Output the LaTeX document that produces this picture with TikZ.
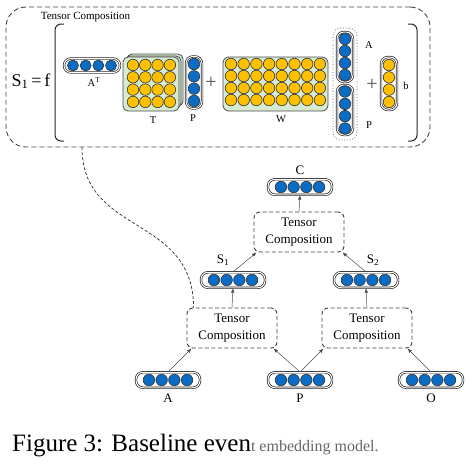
\documentclass[tikz,border=0pt]{standalone}
\usepackage{fontspec}
\setmainfont{Liberation Serif}
\usetikzlibrary{calc,arrows.meta}
\definecolor{vblue}{HTML}{0A6CC4}
\definecolor{vyellow}{HTML}{FFC000}
\definecolor{vgreen}{HTML}{D6EBD2}
\tikzset{
  dotb/.style={circle, draw=black!80, line width=0.6pt, fill=vblue, minimum size=11.5pt, inner sep=0pt},
  doty/.style={circle, draw=black!80, line width=0.6pt, fill=vyellow, minimum size=11.5pt, inner sep=0pt},
  pill/.style={draw=black!85, line width=0.7pt, double=white, double distance=1pt, rounded corners=7pt, inner sep=0pt},
  mat/.style={draw=black!70, line width=0.8pt, fill=vgreen, rounded corners=5pt},
  tcbox/.style={draw=black!75, dash pattern=on 4pt off 2.5pt, line width=0.9pt, rounded corners=6pt,
    minimum width=90pt, minimum height=40pt, align=center, inner sep=1pt, font=\fontsize{13}{17}\selectfont},
  arr/.style={-{Latex[length=4.5pt,width=3.5pt]}, line width=0.5pt, draw=black!70},
  lbl/.style={inner sep=0pt, font=\fontsize{13}{13}\selectfont},
  slbl/.style={inner sep=0pt, font=\fontsize{10.5}{10.5}\selectfont},
  plus/.style={inner sep=0pt, text=black!70, font=\fontsize{20}{20}\selectfont}
}
\newcommand\hpill[3]{%
  \node[pill, minimum width=64pt, minimum height=15.5pt] (#1) at (#2) {};
  \foreach \k in {-1.5,-0.5,0.5,1.5} \node[#3] at ($(#1.center)+(\k*12.7,0)$) {};}
\begin{document}
\begin{tikzpicture}[x=1pt,y=-1pt]
\useasboundingbox (0,0) rectangle (472,464);
% ---- upper panel
\node[draw=black!75, dash pattern=on 5pt off 3pt, line width=0.9pt, rounded corners=20pt,
  minimum width=424pt, minimum height=140pt, inner sep=0pt] (outer) at (218,77) {};
\node[inner sep=0pt, font=\fontsize{11}{11}\selectfont] (ttl) at (85.5,17) {Tensor Composition};
\node[inner sep=0pt, font=\fontsize{18}{18}\selectfont] (s1f) at (31,81) {S\textsubscript{1}\,=\,f};
\draw[line width=1pt, draw=black!85, rounded corners=6pt] (64,24) -- (55,24) -- (55,141) -- (64,141);
\draw[line width=1pt, draw=black!85, rounded corners=6pt] (408,24) -- (417,24) -- (417,141) -- (408,141);
% A^T
\node[pill, minimum width=56pt, minimum height=14pt] (at) at (92,65.5) {};
\foreach \k in {-1.5,-0.5,0.5,1.5} \node[dotb, minimum size=11pt] at ($(at.center)+(\k*12.7,0)$) {};
\node[slbl] (atl) at (94,82) {A\textsuperscript{T}};
% T tensor
\draw[mat] (127,54) rectangle (183,106);
\draw[mat] (125,56) rectangle (181,108);
\node[mat, minimum width=56pt, minimum height=54pt, inner sep=0pt] (tm) at (151,84) {};
\foreach \i in {0,...,3} \foreach \j in {0,...,3}
  \node[doty] at ($(133,65)+(\i*12.3,\j*12.3)$) {};
\node[slbl] (tl) at (153,120) {T};
% P vertical
\node[pill, minimum width=16pt, minimum height=52pt] (pv) at (194,82.5) {};
\foreach \k in {-1.5,-0.5,0.5,1.5} \node[dotb] at ($(pv.center)+(0,\k*12.3)$) {};
\node[slbl] (pl) at (193,118) {P};
\node[plus] (pl1) at (211,83) {+};
% W
\node[mat, minimum width=105pt, minimum height=54pt, inner sep=0pt, rounded corners=6pt] (wm) at (275.5,84) {};
\foreach \i in {0,...,7} \foreach \j in {0,...,3}
  \node[doty] at ($(231,64)+(\i*12.7,\j*12)$) {};
\node[slbl] (wl) at (281,119) {W};
% A/P stacked
\node[draw=black!70, dotted, line width=0.7pt, rounded corners=8pt, minimum width=24pt, minimum height=112pt, inner sep=0pt] (ap) at (345,84) {};
\node[pill, minimum width=16pt, minimum height=50pt] (av) at (345,57) {};
\foreach \k in {-1.5,-0.5,0.5,1.5} \node[dotb] at ($(av.center)+(0,\k*12)$) {};
\node[pill, minimum width=16pt, minimum height=50pt] (pv2) at (345,110) {};
\foreach \k in {-1.5,-0.5,0.5,1.5} \node[dotb] at ($(pv2.center)+(0,\k*12.3)$) {};
\node[slbl] (al) at (369,45) {A};
\node[slbl] (pl2) at (369,125) {P};
\node[plus] (pl2b) at (372,85) {+};
% b
\node[pill, minimum width=16pt, minimum height=53pt] (bv) at (389,83.5) {};
\foreach \k in {-1.5,-0.5,0.5,1.5} \node[doty] at ($(bv.center)+(0,\k*12.3)$) {};
\node[slbl] (bl) at (406,86) {b};
% ---- lower tree
\hpill{vc}{300,187}{dotb}
\node[lbl] (cl) at (300,170) {C};
\node[tcbox] (tct) at (299,232) {Tensor\\Composition};
\hpill{vs1}{233,280}{dotb}
\node[lbl] (s1l) at (223,260) {S\textsubscript{1}};
\hpill{vs2}{366,280}{dotb}
\node[lbl] (s2l) at (373,260) {S\textsubscript{2}};
\node[tcbox] (tcl) at (232,328) {Tensor\\Composition};
\node[tcbox] (tcr) at (367,328) {Tensor\\Composition};
\hpill{va}{168,380}{dotb}
\hpill{vp}{300,380}{dotb}
\hpill{vo}{431,380}{dotb}
\node[lbl] (val) at (168,398) {A};
\node[lbl] (vpl) at (300,398) {P};
\node[lbl] (vol) at (431,398) {O};
% arrows
\draw[arr] (va.north) -- ([xshift=5pt]tcl.south west);
\draw[arr] (vp.north) -- ([xshift=-4pt]tcl.south east);
\draw[arr] (vp.north) -- ([xshift=2pt]tcr.south west);
\draw[arr] (vo.north) -- ([xshift=-5pt]tcr.south east);
\draw[arr] (tcl.north) -- (vs1.south);
\draw[arr] (tcr.north) -- (vs2.south);
\draw[arr] (vs1.north) -- ([xshift=3pt]tct.south west);
\draw[arr] (vs2.north) -- ([xshift=-2pt]tct.south east);
\draw[arr] (tct.north) -- (vc.south);
% dashed link
\coordinate (cs) at ([xshift=-136pt]outer.south);
\draw[draw=black!75, dash pattern=on 3pt off 2pt, line width=0.8pt] (cs) .. controls +(0,88) and +(0,-93) .. ([xshift=7pt]tcl.north west);
% caption
\node[anchor=base west, inner sep=0pt, font=\fontsize{25}{25}\selectfont] (cap) at (12,451)
  {Figure 3: Baseline even{\color{black!60}\fontsize{16}{16}\selectfont t embedding model.}};
\end{tikzpicture}
\end{document}
